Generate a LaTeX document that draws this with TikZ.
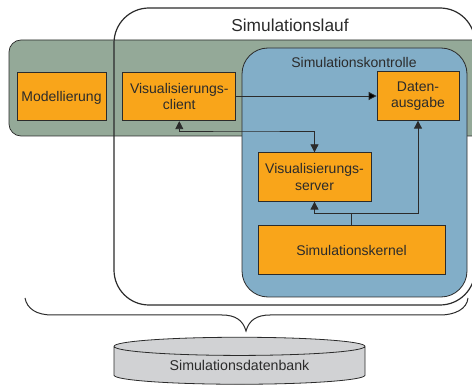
\documentclass[tikz,border=0pt]{standalone}
\usepackage{fontspec}
\setmainfont{Liberation Sans}
\usetikzlibrary{arrows.meta,positioning,shapes.geometric}
\definecolor{boxorange}{HTML}{F9A51A}
\definecolor{layergreen}{HTML}{94A998}
\definecolor{layerblue}{HTML}{82AEC8}
\definecolor{dbgrey}{HTML}{D1D2D4}
\definecolor{inkdark}{HTML}{2B2B2B}
\tikzset{
    %Define standard arrow tip
    >={Triangle[length=8pt,width=8pt]},
    %Define style for boxes
    punkt/.style={
           rectangle,
           draw=inkdark, line width=0.8pt,
           fill=boxorange,
           text=inkdark,
           align=center,
           inner sep=0pt,
           minimum height=48.5pt,
           font=\fontsize{14}{16.7}\selectfont},
    % Define style for the big areas
    bereich/.style={
           rectangle,
           draw=inkdark,
           inner sep=0pt},
    titel/.style={
           text=inkdark,
           inner sep=0pt},
    % Define arrow style
    pil/.style={
           draw=inkdark,
           line width=0.8pt}
}
\begin{document}
\begin{tikzpicture}[x=1pt,y=-1pt]
\clip (0,0) rectangle (472,385);
 %areas
\node[bereich, fill=layergreen, line width=0.7pt, rounded corners=12pt, minimum width=480pt, minimum height=96pt](modellband) at (249,88){};
\node[bereich, line width=1.2pt, rounded corners=35pt, minimum width=361pt, minimum height=297pt](laufrahmen) at (294.5,156.5){};
\node[bereich, fill=layerblue, line width=0.8pt, rounded corners=26pt, minimum width=225pt, minimum height=249pt](kontrolle) at (354.5,172.5){};
\node[titel, font=\fontsize{17.3}{20}\selectfont](lauftitel) at (290,25){Simulationslauf};
\node[titel, font=\fontsize{14}{16}\selectfont](kontrolltitel) at (354,62){Simulationskontrolle};
 %nodes
\node[punkt, minimum width=89pt, text depth=0pt](modell) at (61.5,96.5){Modellierung};
\node[punkt, minimum width=113pt, right=16pt of modell](client){Visualisierungs-\\client};
\node[punkt, minimum width=82pt](daten) at (418,96){Daten-\\ausgabe};
\node[punkt, minimum width=113pt](server) at (314.5,177){Visualisierungs-\\server};
\node[punkt, minimum width=187pt](kernel) at (351.5,250){Simulationskernel};
\node[cylinder, shape border rotate=90, aspect=0.13, draw=inkdark, line width=0.8pt, fill=dbgrey, text=inkdark, inner sep=0pt, minimum width=251pt, minimum height=47pt, font=\fontsize{14.2}{16}\selectfont](datenbank) at (239.5,365.5){Simulationsdatenbank};
 %connectors
\coordinate (kreuz) at (246,131);
\coordinate (abzweig) at (kernel.north |- 0,213);
\path[pil]
    (client.east |- daten.west) edge[->] (daten.west);
\draw[pil,<->] (client.south) |- (kreuz) -| (server.north);
\draw[pil,->] (kernel.north) -- (abzweig) -| (server.south);
\draw[pil,->] (abzweig) -| (daten.south);
 %brace
\coordinate (klammerlinks) at (25,298);
\coordinate (klammerspitze) at (246,331);
\coordinate (klammerrechts) at (468,298);
\draw[draw=inkdark, line width=1pt] (klammerlinks) .. controls (27,309) and (37,315) .. (52,315)
    -- (222,315) .. controls (235,315) and (243,320) .. (klammerspitze)
    .. controls (249,320) and (257,315) .. (270,315)
    -- (440,315) .. controls (455,315) and (467,309) .. (klammerrechts);
\end{tikzpicture}
\end{document}
